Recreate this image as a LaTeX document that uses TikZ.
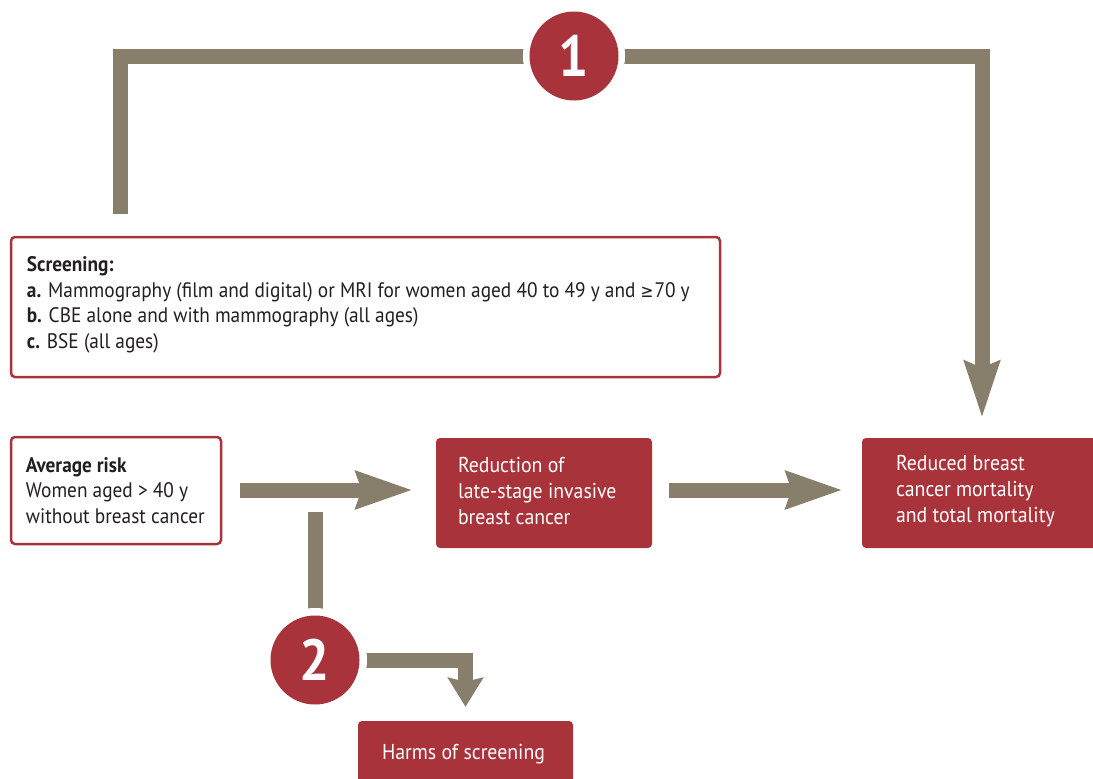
\documentclass[tikz,border=0pt]{standalone}
\usepackage{fontspec}
\setmainfont{PT Sans}[FakeStretch=0.92]
\newfontfamily\symfont{DejaVu Sans}[FakeStretch=0.85]
\usetikzlibrary{arrows.meta,backgrounds}
\definecolor{cred}{HTML}{A8333A}
\definecolor{cgray}{HTML}{887E6C}
\definecolor{ctext}{HTML}{231F20}
\begin{document}
\begin{tikzpicture}[x=1pt,y=-1pt,
  wbox/.style={draw=cred, line width=2.5pt, fill=white, rounded corners=4pt, inner sep=0pt},
  rbox/.style={fill=cred, rounded corners=4pt, inner sep=0pt},
  txt/.style={font=\fontsize{21}{25.5}\selectfont, align=left, inner sep=0pt, text=ctext},
  wtxt/.style={txt, text=white, font=\fontsize{21.5}{26}\selectfont},
  conn/.style={draw=cgray, line width=15pt, line join=miter},
  num/.style={circle, fill=cred, text=white, inner sep=0pt, minimum size=89pt,
    font=\fontsize{58}{58}\selectfont\bfseries},
  bighead/.style={-{Stealth[width=36pt,length=56pt,inset=5pt]}},
]
\useasboundingbox (0,0) rectangle (1093,779);

% boxes
\node[wbox, minimum width=709pt, minimum height=140pt] (screen) at (365.5,307) {};
\node[txt, anchor=west] (screent) at ([xshift=17pt,yshift=2pt]screen.west)
  {\textbf{Screening:}\\
   \textbf{a.} Mammography (film and digital) or MRI for women aged 40 to 49 y and {\symfont\fontsize{18}{18}\selectfont ≥}\kern1pt 70 y\\
   \textbf{b.} CBE alone and with mammography (all ages)\\
   \textbf{c.} BSE (all ages)};

\node[wbox, minimum width=210pt, minimum height=107pt] (avg) at (116,490.5) {};
\node[txt, anchor=west] (avgt) at ([xshift=16pt]avg.west)
  {\textbf{Average risk}\\ Women aged > 40 y\\ without breast cancer};

\node[rbox, minimum width=216pt, minimum height=110pt] (red1) at (544,493) {};
\node[wtxt, anchor=west] (red1t) at ([xshift=22pt,yshift=1.5pt]red1.west)
  {Reduction of\\ late-stage invasive\\ breast cancer};

\node[rbox, minimum width=238pt, minimum height=110pt] (red2) at (981,493) {};
\node[wtxt, anchor=west] (red2t) at ([xshift=34pt,yshift=1.5pt]red2.west)
  {Reduced breast\\ cancer mortality\\ and total mortality};

\node[rbox, minimum width=215pt, minimum height=66pt] (harms) at (465.5,754) {};
\node[wtxt] (harmst) at (463.5,754) {Harms of screening};

% numbered circles
\node[num, preaction={draw=white, line width=13pt}] (c1) at (574,56) {1};
\node[num, preaction={draw=white, line width=15pt}] (c2) at (315,660) {2};

% connectors
\coordinate (s1) at (120,214);
\coordinate (t1) at (982,418);
\coordinate (d1) at (315,512);
\begin{scope}[on background layer]
  \draw[conn, -{Stealth[width=34pt,length=56pt,inset=6pt]}] (s1) |- (c1.center) -| (t1);
  \draw[conn, bighead] ([xshift=18pt]avg.east |- 0,490) -- ([xshift=-23pt]red1.west |- 0,490);
  \draw[conn, bighead] ([xshift=17pt]red1.east |- 0,490) -- ([xshift=-19pt]red2.west |- 0,490);
  \draw[conn] (d1) -- (c2.center);
  \draw[conn, -{Stealth[width=35pt,length=29pt,inset=4pt]}] (c2.center) -| ([yshift=14pt]harms.north);
\end{scope}
\end{tikzpicture}
\end{document}
